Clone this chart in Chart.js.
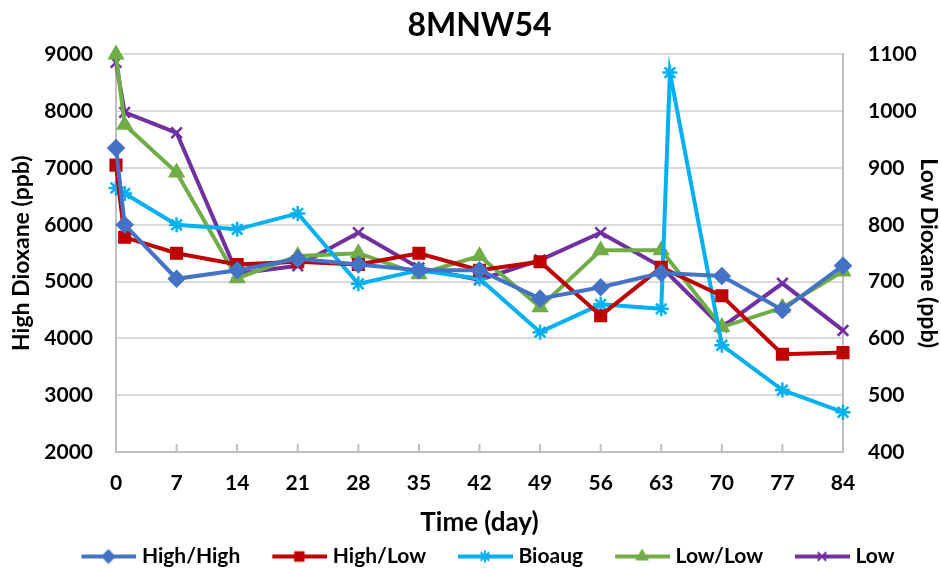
<!DOCTYPE html>
<html>
<head>
<meta charset="utf-8">
<script src="https://cdn.jsdelivr.net/npm/chart.js@4.4.0/dist/chart.umd.min.js"></script>
<style>
  body { margin: 0; background: #fff; }
  #wrap { width: 941px; height: 569px; position: relative; }
</style>
</head>
<body>
<div id="wrap"><canvas id="dioxaneChart"></canvas></div>
<script>
// sampling days (day 0 and day 1 are both plotted)
const days = [0, 1, 7, 14, 21, 28, 35, 42, 49, 56, 63, 70, 77, 84];
const bioaugDays = [0, 1, 7, 14, 21, 28, 35, 42, 49, 56, 63, 64, 70, 77, 84];
const xTicks = [0, 7, 14, 21, 28, 35, 42, 49, 56, 63, 70, 77, 84];

// left axis (ppb)
const highHigh = [7350, 6000, 5050, 5200, 5400, 5300, 5200, 5200, 4700, 4900, 5150, 5100, 4500, 5280];
const highLow = [7050, 5780, 5500, 5300, 5350, 5300, 5500, 5200, 5350, 4400, 5250, 4750, 3720, 3750];
const bioaug = [6650, 6550, 6000, 5920, 6200, 4960, 5200, 5050, 4110, 4600, 4520, 8680, 3880, 3090, 2700];

// right axis (ppb)
const lowLow = [1100, 976, 892, 706, 745, 750, 713, 745, 655, 755, 755, 620, 654, 718];
const low = [1086, 998, 962, 714, 728, 786, 724, 703, 738, 786, 726, 620, 697, 614];

const leftTicks = [2000, 3000, 4000, 5000, 6000, 7000, 8000, 9000];
const rightTicks = [400, 500, 600, 700, 800, 900, 1000, 1100];

const FONT = "Lato, 'Open Sans', sans-serif";

function toPoints(xs, ys) {
  return xs.map(function (d, i) { return { x: d, y: ys[i] }; });
}

// line + marker swatch for the legend, drawn in the right part of the canvas
function legendSwatch(color, style) {
  const c = document.createElement('canvas');
  c.width = 75; c.height = 18;
  const ctx = c.getContext('2d');
  ctx.strokeStyle = color;
  ctx.lineWidth = 4;
  ctx.beginPath();
  ctx.moveTo(20, 9); ctx.lineTo(75, 9);
  ctx.stroke();
  ctx.fillStyle = color;
  ctx.lineWidth = 2;
  Chart.helpers.drawPoint(ctx, {
    pointStyle: style, radius: 6, rotation: 0, borderWidth: 2
  }, 47, 9);
  return c;
}

const series = [
  { label: 'High/High', xs: days, ys: highHigh, color: '#4472C4', style: 'rectRot', axis: 'y' },
  { label: 'High/Low', xs: days, ys: highLow, color: '#C00000', style: 'rect', axis: 'y' },
  { label: 'Bioaug', xs: bioaugDays, ys: bioaug, color: '#00B0F0', style: 'star', axis: 'y' },
  { label: 'Low/Low', xs: days, ys: lowLow, color: '#70AD47', style: 'triangle', axis: 'y1' },
  { label: 'Low', xs: days, ys: low, color: '#7030A0', style: 'crossRot', axis: 'y1' }
];

// upward tick marks on the time axis
const innerTicks = {
  id: 'innerTicks',
  beforeDatasetsDraw(chart) {
    const x = chart.scales.x;
    const ctx = chart.ctx;
    ctx.save();
    ctx.strokeStyle = '#bfbfbf';
    ctx.lineWidth = 2;
    x.ticks.forEach(function (t) {
      const px = x.getPixelForValue(t.value);
      ctx.beginPath();
      ctx.moveTo(px, x.top);
      ctx.lineTo(px, x.top - 8);
      ctx.stroke();
    });
    ctx.restore();
  }
};

new Chart(document.getElementById('dioxaneChart'), {
  type: 'line',
  data: {
    datasets: series.map(function (s) {
      return {
        label: s.label,
        data: toPoints(s.xs, s.ys),
        yAxisID: s.axis,
        borderColor: s.color,
        backgroundColor: s.color,
        borderWidth: 4,
        pointStyle: s.style,
        pointRadius: 7.5,
        pointBorderWidth: 2.5,
        pointBackgroundColor: s.color,
        pointBorderColor: s.color,
        tension: 0,
        clip: false,
        legendSwatch: legendSwatch(s.color, s.style)
      };
    })
  },
  options: {
    responsive: true,
    maintainAspectRatio: false,
    animation: false,
    layout: { padding: { left: 20, right: 0, top: 0, bottom: -8 } },
    plugins: {
      title: {
        display: true,
        fullSize: false,
        text: '8MNW54',
        color: '#000',
        font: { family: FONT, size: 32, weight: 'bold' },
        padding: { top: 6, bottom: 10 }
      },
      legend: {
        position: 'bottom',
        labels: {
          color: '#000',
          font: { family: FONT, size: 21, weight: 'bold' },
          usePointStyle: true,
          pointStyleWidth: 65,
          boxHeight: 18,
          padding: 17,
          generateLabels: function (chart) {
            const items = Chart.defaults.plugins.legend.labels.generateLabels(chart);
            items.forEach(function (it) {
              it.pointStyle = chart.data.datasets[it.datasetIndex].legendSwatch;
            });
            return items;
          }
        }
      },
      tooltip: { enabled: false }
    },
    scales: {
      x: {
        type: 'linear',
        min: 0,
        max: 84,
        afterBuildTicks: function (scale) {
          scale.ticks = xTicks.map(function (v) { return { value: v }; });
        },
        afterFit: function (scale) { scale.height = 77; },
        grid: { display: false },
        border: { display: true, color: '#bfbfbf', width: 2 },
        ticks: {
          color: '#000',
          padding: 11,
          maxRotation: 0,
          font: { family: FONT, size: 21, weight: 'bold' }
        },
        title: {
          display: true,
          text: 'Time (day)',
          color: '#000',
          font: { family: FONT, size: 26, weight: 'bold' },
          padding: { top: 0, bottom: -9 }
        }
      },
      y: {
        position: 'left',
        min: 2000,
        max: 9000,
        afterBuildTicks: function (scale) {
          scale.ticks = leftTicks.map(function (v) { return { value: v }; });
        },
        afterFit: function (scale) { scale.width = 96; },
        grid: { color: '#d9d9d9', lineWidth: 2, drawTicks: false },
        border: { display: true, color: '#bfbfbf', width: 2 },
        ticks: {
          color: '#000',
          padding: 23,
          font: { family: FONT, size: 21, weight: 'bold' },
          callback: function (v) { return String(v); }
        },
        title: {
          display: true,
          text: 'High Dioxane (ppb)',
          color: '#000',
          font: { family: FONT, size: 23, weight: 'bold' },
          padding: { top: -12, bottom: 0 }
        }
      },
      y1: {
        position: 'right',
        min: 400,
        max: 1100,
        afterBuildTicks: function (scale) {
          scale.ticks = rightTicks.map(function (v) { return { value: v }; });
        },
        afterFit: function (scale) { scale.width = 98; },
        grid: { display: false },
        border: { display: true, color: '#bfbfbf', width: 2 },
        ticks: {
          color: '#000',
          padding: 17,
          font: { family: FONT, size: 21, weight: 'bold' },
          callback: function (v) { return String(v); }
        },
        title: {
          display: true,
          text: 'Low Dioxane (ppb)',
          color: '#000',
          font: { family: FONT, size: 23, weight: 'bold' },
          padding: { top: -1, bottom: 0 }
        }
      }
    }
  },
  plugins: [innerTicks]
});
</script>
</body>
</html>
